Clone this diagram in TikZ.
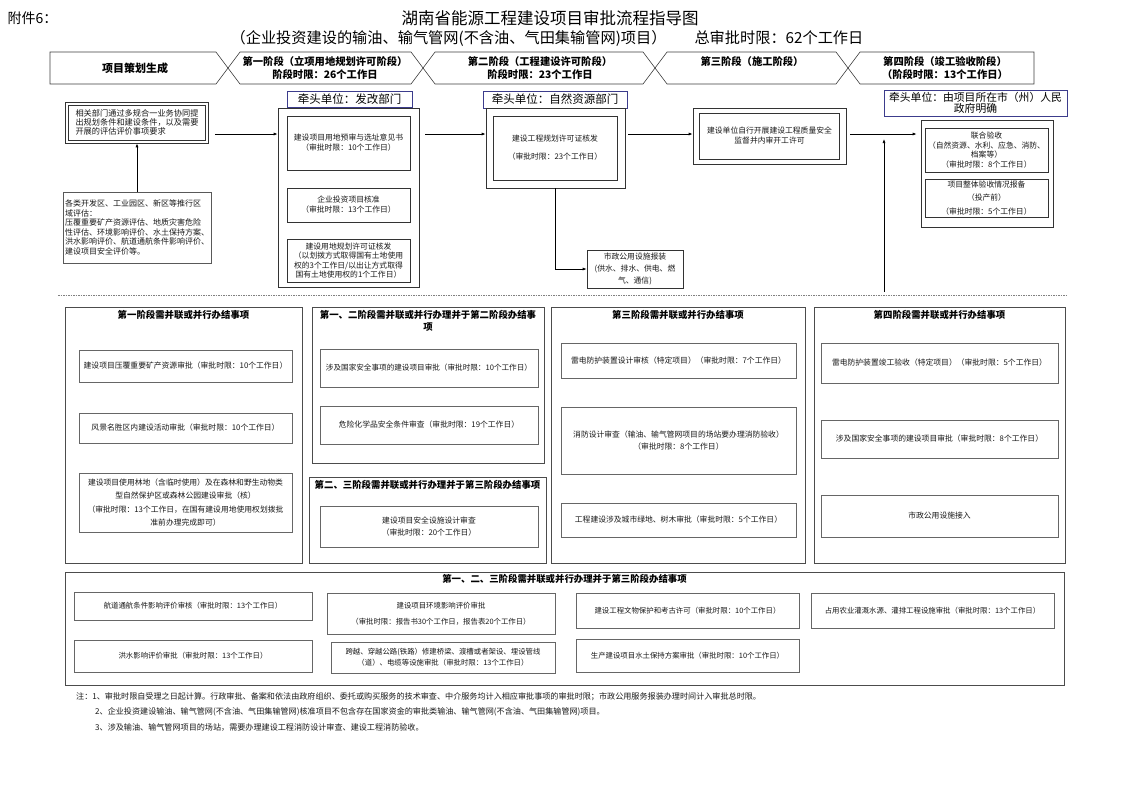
\documentclass[tikz,border=0pt]{standalone}
\usepackage{fontspec}
\setmainfont{Noto Sans CJK SC}
\usetikzlibrary{arrows.meta,positioning}
\definecolor{leadblue}{RGB}{60,60,140}

\begin{document}
\begin{tikzpicture}[x=1pt, y=-1pt,
  wh/.style n args={2}{minimum width=#1pt, minimum height=#2pt},
  box/.style={draw=black!80, line width=0.6pt, inner sep=1pt, align=center, text=black!90,
    font=\fontsize{7.8}{10}\selectfont},
  lead/.style={draw=leadblue, line width=0.8pt, inner sep=1pt, align=center,
    font=\fontsize{11.5}{11.5}\selectfont},
  grp/.style={draw=black!70, line width=0.7pt},
  item/.style={box, draw=black!60},
  ttl/.style={font=\bfseries\fontsize{9.4}{12.5}\selectfont, align=center, inner sep=0pt},
  band/.style={draw=black!75, line width=0.6pt},
  btxt/.style={font=\bfseries\fontsize{10.3}{13}\selectfont, align=center},
  note/.style={anchor=west, inner sep=0pt, text=black!90, font=\fontsize{8.1}{10}\selectfont},
  arr/.style={-{Latex[length=4pt,width=3pt]}, line width=0.8pt}
]
\path[use as bounding box, fill=white] (0,0) rectangle (1122,793);

% title
\node[anchor=west, font=\fontsize{14}{14}\selectfont] (annex) at (4,18) {附件6：};
\node[font=\fontsize{16.5}{16.5}\selectfont] (title) at (550,18) {湖南省能源工程建设项目审批流程指导图};
\node[font=\fontsize{15.2}{15.2}\selectfont] (subtitle) at (547,38)
  {（企业投资建设的输油、输气管网(不含油、气田集输管网)项目）\hspace{28pt}总审批时限：62个工作日};

% stage band
\draw[band] (50,52) -- (216,52) -- (228,68) -- (216,84) -- (50,84) -- cycle;
\foreach \a/\b in {228/423, 423/655, 655/848}
  \draw[band] (\a+12,52) -- (\b-12,52) -- (\b,68) -- (\b-12,84) -- (\a+12,84) -- (\a,68) -- cycle;
\draw[band] (860,52) -- (1034,52) -- (1034,84) -- (860,84) -- (848,68) -- cycle;

\node[btxt, font=\bfseries\fontsize{11}{13}\selectfont] (plan) at (135,68) {项目策划生成};
\node[btxt] (st1) at (325,68) {第一阶段（立项用地规划许可阶段）\\阶段时限：26个工作日};
\node[btxt] (st2) at (540,68) {第二阶段（工程建设许可阶段）\\阶段时限：23个工作日};
\node[btxt] (st3) at (752,62) {第三阶段（施工阶段）};
\node[btxt] (st4) at (945,68) {第四阶段（竣工验收阶段）\\（阶段时限：13个工作日）};

% project planning
\node[box, wh={143}{41}] (req) at (137,122.5) {};
\node[box, wh={137}{35}, align=left, font=\fontsize{8.2}{9}\selectfont] (reqtxt) at (req)
  {相关部门通过多规合一业务协同提\\出规划条件和建设条件，以及需要\\开展的评估评价事项要求};
\node[box, draw=black!65, line width=0.9pt, align=left, wh={148}{71}, font=\fontsize{8}{9.5}\selectfont] (eval) at (137,227.5)
  {各类开发区、工业园区、新区等推行区\\域评估：\\压覆重要矿产资源评估、地质灾害危险\\性评估、环境影响评价、水土保持方案、\\洪水影响评价、航道通航条件影响评价、\\建设项目安全评价等。};

% stage 1
\node[lead, wh={125}{16}] (lead1) at (349.5,99) {牵头单位：发改部门};
\node[box, wh={141}{179}] (s1box) at (348.5,197.5) {};
\node[box, wh={123}{54}] (s1a) at (348.5,143) {建设项目用地预审与选址意见书\\（审批时限：10个工作日）};
\node[box, wh={123}{34}] (s1b) at (348.5,205) {企业投资项目核准\\（审批时限：13个工作日）};
\node[box, wh={123}{43}, font=\fontsize{7.8}{9.6}\selectfont] (s1c) at (348.5,260.5)
  {建设用地规划许可证核发\\（以划拨方式取得国有土地使用\\权的3个工作日/以出让方式取得\\国有土地使用权的1个工作日）};

% stage 2
\node[lead, wh={144}{17}] (lead2) at (555,99.5) {牵头单位：自然资源部门};
\node[box, wh={139}{80}] (s2box) at (555.5,148) {};
\node[box, wh={124}{64}] (s2a) at (555,148) {建设工程规划许可证核发\\[8pt]（审批时限：23个工作日）};
\node[box, wh={96}{38}, font=\fontsize{7.8}{12}\selectfont] (muni) at (635,269)
  {市政公用设施报装\\(供水、排水、供电、燃\\气、通信)};

% stage 3
\node[box, wh={153}{56}] (s3) at (769.5,136) {};
\node[box, wh={140}{46}] (s3txt) at (s3)
  {建设单位自行开展建设工程质量安全\\监督并内审开工许可};

% stage 4
\node[lead, wh={183}{26}, font=\fontsize{10.8}{11.5}\selectfont] (lead4) at (975.5,103)
  {牵头单位：由项目所在市（州）人民\\政府明确};
\node[box, wh={132}{107}] (s4box) at (987,173.5) {};
\node[box, wh={123}{44}, font=\fontsize{7.8}{9.8}\selectfont] (s4a) at (986.5,150)
  {联合验收\\（自然资源、水利、应急、消防、\\档案等）\\（审批时限：8个工作日）};
\node[box, wh={123}{38}, font=\fontsize{7.8}{13.5}\selectfont] (s4b) at (986.5,198)
  {项目整体验收情况报备\\（投产前）\\（审批时限：5个工作日）};

% flow
\coordinate (flow) at (0,134);
\coordinate (rise) at (884,292);
\draw[arr] (eval) -- (req);
\draw[arr, shorten <=6pt] (req.east |- flow) -- (s1box.west |- flow);
\draw[arr, shorten <=6pt] (s1box.east |- flow) -- (s2box.west |- flow);
\draw[arr, shorten <=3pt] (s2box.east |- flow) -- (s3.west |- flow);
\draw[arr, shorten <=4pt, shorten >=4pt] (s3.east |- flow) -- (s4box.west |- flow);
\draw[arr, line width=0.6pt, shorten >=5pt] (rise) -- (rise |- flow);
\draw[arr, line width=0.6pt] (s2box.south) |- (muni.west);

\draw[black!50, line width=0.5pt, dash pattern=on 1.5pt off 1pt] (58,295) -- (1066,295);

% parallel items, stage 1
\node[grp, wh={237}{256}] (grpA) at (183.5,435) {};
\node[ttl, below=3pt of grpA.north] (ttlA) {第一阶段需并联或并行办结事项};
\node[item, wh={213}{32}] (a1) at (185.5,366) {建设项目压覆重要矿产资源审批（审批时限：10个工作日）};
\node[item, wh={213}{30}] (a2) at (185.5,428) {风景名胜区内建设活动审批（审批时限：10个工作日）};
\node[item, wh={213}{59}, font=\fontsize{7.8}{13.3}\selectfont] (a3) at (185.5,502.5)
  {建设项目使用林地（含临时使用）及在森林和野生动物类\\型自然保护区或森林公园建设审批（核）\\（审批时限：13个工作日，在国有建设用地使用权划拨批\\准前办理完成即可）};

% stages 1-2
\node[grp, wh={232}{156}] (grpB) at (428,385) {};
\node[ttl, below=3pt of grpB.north] (ttlB) {第一、二阶段需并联或并行办理并于第二阶段办结事\\项};
\node[item, wh={218}{38}, font=\fontsize{7.6}{10}\selectfont] (b1) at (429,368) {涉及国家安全事项的建设项目审批（审批时限：10个工作日）};
\node[item, wh={218}{38}] (b2) at (429,425) {危险化学品安全条件审查（审批时限：19个工作日）};

% stages 2-3
\node[grp, wh={237}{86}] (grpC) at (427.5,520) {};
\node[ttl, below=3pt of grpC.north] (ttlC) {第二、三阶段需并联或并行办理并于第三阶段办结事项};
\node[item, wh={218}{41}, font=\fontsize{7.8}{12.5}\selectfont] (c1) at (429,526.5) {建设项目安全设施设计审查\\（审批时限：20个工作日）};

% stage 3
\node[grp, wh={254}{256}] (grpD) at (678,435) {};
\node[ttl, below=3pt of grpD.north] (ttlD) {第三阶段需并联或并行办结事项};
\node[item, wh={235}{35}] (d1) at (678.5,360.5) {雷电防护装置设计审核（特定项目）（审批时限：7个工作日）};
\node[item, wh={235}{67}, font=\fontsize{7.8}{12.5}\selectfont] (d2) at (678.5,440.5)
  {消防设计审查（输油、输气管网项目的场站要办理消防验收）\\（审批时限：8个工作日）};
\node[item, wh={235}{34}] (d3) at (678.5,520) {工程建设涉及城市绿地、树木审批（审批时限：5个工作日）};

% stage 4
\node[grp, wh={251}{256}] (grpE) at (939.5,435) {};
\node[ttl, below=3pt of grpE.north] (ttlE) {第四阶段需并联或并行办结事项};
\node[item, wh={237}{40}] (e1) at (939.5,363) {雷电防护装置竣工验收（特定项目）（审批时限：5个工作日）};
\node[item, wh={237}{38}] (e2) at (939.5,439) {涉及国家安全事项的建设项目审批（审批时限：8个工作日）};
\node[item, wh={237}{42}] (e3) at (939.5,516) {市政公用设施接入};

% stages 1-3
\node[grp, wh={999}{113}] (grpF) at (564.5,628.5) {};
\node[ttl, below=2pt of grpF.north] (ttlF) {第一、二、三阶段需并联或并行办理并于第三阶段办结事项};
\tikzset{fitem/.style={item, font=\fontsize{7.4}{10}\selectfont}}
\node[fitem, wh={238}{28}] (f1) at (193,606) {航道通航条件影响评价审核（审批时限：13个工作日）};
\node[fitem, wh={228}{41}, font=\fontsize{7.4}{16}\selectfont] (f2) at (441,613.5)
  {建设项目环境影响评价审批\\（审批时限：报告书30个工作日，报告表20个工作日）};
\node[fitem, wh={223}{35}] (f3) at (687.5,610.5) {建设工程文物保护和考古许可（审批时限：10个工作日）};
\node[fitem, wh={243}{35}] (f4) at (932.5,610.5) {占用农业灌溉水源、灌排工程设施审批（审批时限：13个工作日）};
\node[fitem, wh={238}{32}] (f5) at (193,656) {洪水影响评价审批（审批时限：13个工作日）};
\node[fitem, wh={224}{31}, font=\fontsize{7.4}{11}\selectfont] (f6) at (443,657.5)
  {跨越、穿越公路(铁路）修建桥梁、渡槽或者架设、埋设管线\\（道）、电缆等设施审批（审批时限：13个工作日）};
\node[fitem, wh={223}{33}] (f7) at (687.5,655.5) {生产建设项目水土保持方案审批（审批时限：10个工作日）};

% notes
\node[note] (note1) at (76,697) {注：1、审批时限自受理之日起计算。行政审批、备案和依法由政府组织、委托或购买服务的技术审查、中介服务均计入相应审批事项的审批时限；市政公用服务报装办理时间计入审批总时限。};
\node[note] (note2) at (95,712) {2、企业投资建设输油、输气管网(不含油、气田集输管网)核准项目不包含存在国家资金的审批类输油、输气管网(不含油、气田集输管网)项目。};
\node[note] (note3) at (95,727) {3、涉及输油、输气管网项目的场站，需要办理建设工程消防设计审查、建设工程消防验收。};
\end{tikzpicture}
\end{document}
